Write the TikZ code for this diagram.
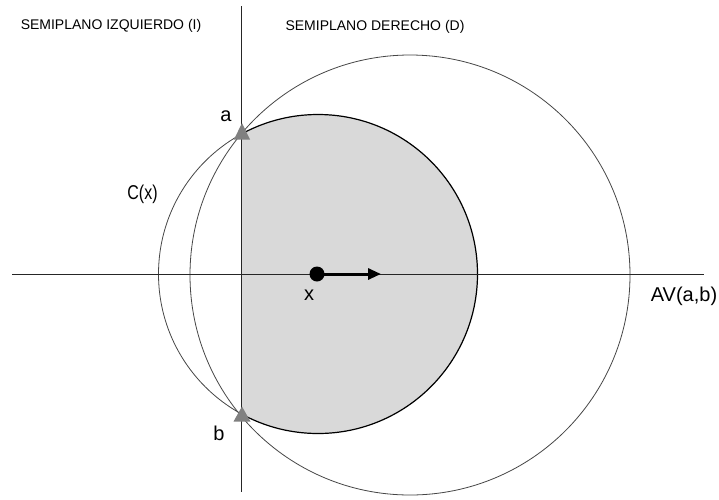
\documentclass[tikz,border=0pt]{standalone}
\usepackage{fontspec}
\setmainfont{Liberation Sans}
\usetikzlibrary{arrows.meta}
\definecolor{discfill}{RGB}{217,217,217}
\definecolor{tri}{RGB}{128,128,128}
\definecolor{thin}{RGB}{70,70,70}
\tikzset{
  axis/.style={draw=black!85, line width=0.9pt},
  ring/.style={draw=thin, line width=0.8pt},
  rim/.style={draw=black, line width=1.2pt},
  lab/.style={inner sep=0pt, font=\fontsize{20}{22}\selectfont},
  title/.style={inner sep=0pt, font=\fontsize{14}{16}\selectfont},
  vertex/.style={fill=tri, draw=none},
}
\begin{document}
\begin{tikzpicture}[x=1pt, y=-1pt]
\useasboundingbox (0,0) rectangle (719,499);
\fill[white] (0,0) rectangle (719,499);
% shaded half disc
\begin{scope}
  \clip (241.5,0) rectangle (719,499);
  \fill[discfill] (318,274) circle[radius=159.5pt];
  \draw[rim] (318,274) circle[radius=159.5pt];
\end{scope}
\begin{scope}
  \clip (0,0) rectangle (241.5,499);
  \draw[ring] (318,274) circle[radius=159.5pt];
\end{scope}
% large circle
\draw[ring] (410,275) circle[radius=220pt];
% axes
\coordinate (vtop) at (241.5,6);
\coordinate (vbot) at (241.5,492);
\coordinate (hleft) at (12,274);
\coordinate (hright) at (704,274);
\draw[axis] (vtop) -- (vbot);
\draw[axis] (hleft) -- (hright);
% vertex triangles
\fill[vertex] (242,123) -- (250,139.5) -- (234,139.5) -- cycle;
\fill[vertex] (242,406.5) -- (250.5,421.5) -- (233.5,421.5) -- cycle;
% centre and arrow
\node[circle, fill=black, inner sep=0pt, minimum size=15pt] (x) at (317,274) {};
\coordinate (tip) at (381,274);
\draw[line width=3pt, -{Triangle[length=13pt, width=11pt]}] (x.center) -- (tip);
% labels
\node[lab] (la) at (226,116) {a};
\node[lab] (lb) at (219,433) {b};
\node[lab] (lx) at (309,295) {x};
\node[lab] (lc) at (142.5,194) {\scalebox{0.8}[1]{C(x)}};
\node[lab] (lav) at (684,296) {AV(a,b)};
\node[title] (ti) at (111,26) {SEMIPLANO IZQUIERDO (I)};
\node[title] (td) at (375,27) {SEMIPLANO DERECHO (D)};
\end{tikzpicture}
\end{document}
